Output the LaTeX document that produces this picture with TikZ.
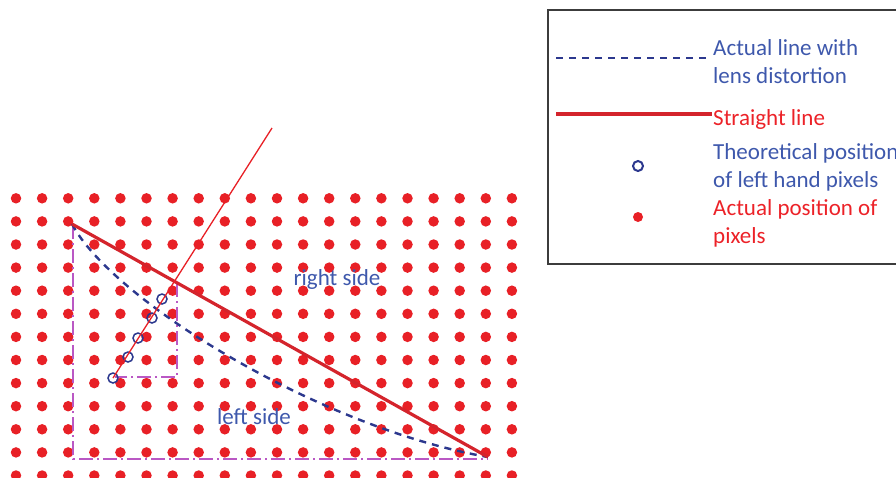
\documentclass[tikz,border=0pt]{standalone}
\usepackage{fontspec}
\setmainfont{Carlito}
\usepackage{xcolor}
\usetikzlibrary{positioning,calc}

\definecolor{dotRed}{RGB}{232,32,38}
\definecolor{lineRed}{RGB}{212,36,44}
\definecolor{txtRed}{RGB}{236,34,40}
\definecolor{txtBlue}{RGB}{62,88,172}
\definecolor{dashBlue}{RGB}{44,56,142}
\definecolor{frameViolet}{RGB}{186,88,196}
\definecolor{boxGray}{RGB}{60,60,60}

\begin{document}
\begin{tikzpicture}[
    x=1pt, y=-1pt,
    font=\fontsize{23}{28}\selectfont,
    pixelDot/.style={
        circle, fill=dotRed, inner sep=0pt, minimum size=10.5pt
    },
    theoCircle/.style={
        circle, draw=dashBlue, line width=1.5pt, inner sep=0pt, minimum size=10pt
    },
    straightLine/.style={
        draw=lineRed, line width=3.2pt
    },
    rayLine/.style={
        draw=dotRed, line width=1.3pt
    },
    distLine/.style={
        draw=dashBlue, line width=2.4pt, dash pattern=on 7pt off 6pt
    },
    frameLine/.style={
        draw=frameViolet, line width=2.2pt, dash pattern=on 14pt off 4pt on 2pt off 4pt
    },
    legendBox/.style={
        draw=boxGray, line width=1.2pt
    },
    blueText/.style={
        text=txtBlue, inner sep=0pt
    },
    redText/.style={
        text=txtRed, inner sep=0pt
    }
]

\useasboundingbox (0,0) rectangle (896,477);
\clip (0,0) rectangle (896,477);

% Pixel grid
\foreach \i in {0,...,19}
    \foreach \j in {0,...,12}
        \node[pixelDot] (d\i-\j) at ({16+26.1*\i},{198.3+23.1*\j}) {};

% Key points
\coordinate (lineA) at (72,224);
\coordinate (lineB) at (488,457);
\coordinate (rayTop) at (272,128);

% Frames (left side)
\draw[frameLine] (73,225) -- (73,459) -- (lineB |- 0,459);
\draw[frameLine] (177,283) -- (177,377) -- (115,377);

% Distorted and straight lines
\draw[distLine] (lineA) .. controls (112,300) and (320,428) .. (lineB);
\draw[straightLine] (lineA) -- (lineB);

% Theoretical positions
\foreach \x/\y [count=\k] in {113/378, 128/357, 138/338, 152/318, 162/299}
    \node[theoCircle] (t\k) at (\x,\y) {};
\draw[rayLine] (t1.center) -- (rayTop);

% Side labels
\node[blueText] (rightLbl) at (337,279) {right side};
\node[blueText] (leftLbl) at (254,417) {left side};

% Legend
\draw[legendBox] (548,10) rectangle (910,264);

\coordinate (keyDashA) at (556,58);
\coordinate (keyDashB) at (706,58);
\draw[distLine, line width=2pt] (keyDashA) -- (keyDashB);
\node[blueText, anchor=west, align=left] (keyActual) at (713,62) {Actual line with\\lens distortion};

\coordinate (keyLineA) at (556,114);
\coordinate (keyLineB) at (712,114);
\draw[straightLine, line width=4pt] (keyLineA) -- (keyLineB);
\node[redText, anchor=west] (keyStraight) at (713,119) {Straight line};

\node[theoCircle, line width=2pt, minimum size=10pt] (keyCircle) at (638,166) {};
\node[blueText, anchor=west, align=left] (keyTheo) at (713,167) {Theoretical position\\of left hand pixels};

\node[pixelDot, minimum size=10pt] (keyDot) at (638,217) {};
\node[redText, anchor=west, align=left] (keyPixels) at (713,223) {Actual position of\\pixels};

\end{tikzpicture}
\end{document}
